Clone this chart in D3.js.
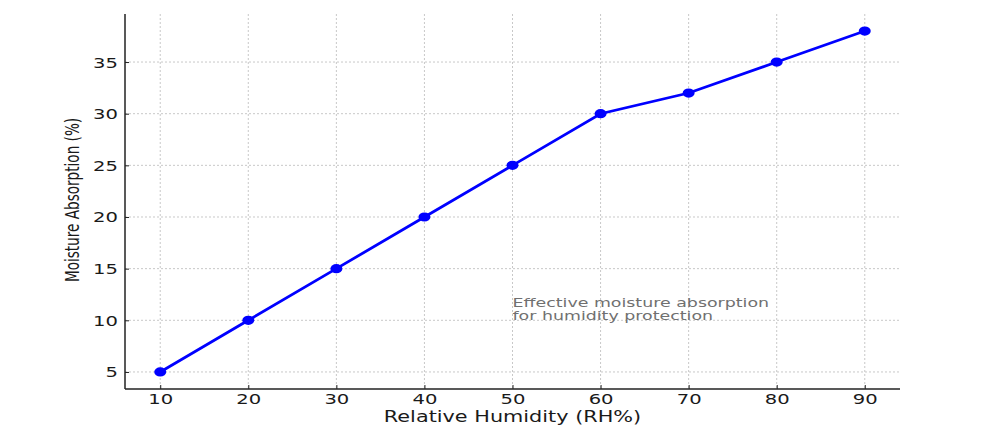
<!DOCTYPE html>
<html>
<head>
<meta charset="utf-8">
<script src="https://cdn.jsdelivr.net/npm/d3@7"></script>
<style>
  body { margin: 0; background: #fff; }
  svg { display: block; }
  text { font-family: "DejaVu Sans", sans-serif; fill: #1a1a1a; }
</style>
</head>
<body>
<svg id="chart" width="1000" height="433"></svg>
<script>
// data
var humidity = [10, 20, 30, 40, 50, 60, 70, 80, 90]
var absorption = [5, 10, 15, 20, 25, 30, 32, 35, 38]
var xTicks = [10, 20, 30, 40, 50, 60, 70, 80, 90]
var yTicks = [5, 10, 15, 20, 25, 30, 35]
var note = ['Effective moisture absorption', 'for humidity protection']

// plot box (window.top is reserved, hence the names)
var plotLeft = 125, plotRight = 900, plotTop = 14, plotBottom = 389

var svg = d3.select('#chart')
var x = d3.scaleLinear().domain([6, 94]).range([plotLeft, plotRight])
var y = d3.scaleLinear().domain([3.35, 39.65]).range([plotBottom, plotTop])

// grid
svg.append('g').selectAll('line').data(yTicks).join('line')
  .attr('x1', plotLeft).attr('x2', plotRight)
  .attr('y1', d => y(d)).attr('y2', d => y(d))
  .attr('stroke', '#c8c8c8').attr('stroke-width', 1).attr('stroke-dasharray', '2,2')
svg.append('g').selectAll('line').data(xTicks).join('line')
  .attr('x1', d => x(d)).attr('x2', d => x(d))
  .attr('y1', plotTop).attr('y2', plotBottom)
  .attr('stroke', '#c8c8c8').attr('stroke-width', 1).attr('stroke-dasharray', '2,2')

// axes (ticks inward); the picture is stretched sideways so text gets scaleX
var xAxis = svg.append('g').attr('transform', 'translate(0,' + plotBottom + ')')
  .call(d3.axisBottom(x).tickValues(xTicks).tickSize(-4))
var yAxis = svg.append('g').attr('transform', 'translate(' + plotLeft + ',0)')
  .call(d3.axisLeft(y).tickValues(yTicks).tickSize(-4))
;[xAxis, yAxis].forEach(g => {
  g.select('.domain').remove()
  g.selectAll('.tick line').attr('stroke', '#222').attr('stroke-width', 1)
  g.selectAll('.tick text').attr('font-size', 13.5).attr('fill', '#1a1a1a')
})
xAxis.selectAll('.tick text')
  .attr('transform', 'translate(0,15) scale(1.45,1)').attr('x', 0).attr('y', 0).attr('dy', 0)
yAxis.selectAll('.tick text').attr('text-anchor', 'end')
  .attr('transform', 'translate(-7,5) scale(1.45,1)').attr('x', 0).attr('dy', 0)

// spines: left and bottom only
svg.append('line').attr('x1', plotLeft).attr('x2', plotLeft).attr('y1', plotTop).attr('y2', plotBottom)
  .attr('stroke', '#222').attr('stroke-width', 1.5)
svg.append('line').attr('x1', plotLeft).attr('x2', plotRight).attr('y1', plotBottom).attr('y2', plotBottom)
  .attr('stroke', '#222').attr('stroke-width', 1.5)

// line + markers
var pts = humidity.map((h, i) => ({ h: h, v: absorption[i] }))
svg.append('path').datum(pts)
  .attr('fill', 'none').attr('stroke', '#0000ff').attr('stroke-width', 2.8)
  .attr('d', d3.line().x(d => x(d.h)).y(d => y(d.v)))
svg.append('g').selectAll('ellipse').data(pts).join('ellipse')
  .attr('cx', d => x(d.h)).attr('cy', d => y(d.v))
  .attr('rx', 6).attr('ry', 4.6).attr('fill', '#0000ff')

// annotation
var ann = svg.append('text')
  .attr('transform', 'translate(' + x(50) + ',' + (y(10) - 13.3) + ') scale(1.45,1)')
  .attr('font-size', 12).style('fill', '#707070')
ann.selectAll('tspan').data(note).join('tspan')
  .attr('x', 0).attr('dy', (d, i) => i ? 13.3 : 0).text(d => d)

// axis labels
svg.append('text')
  .attr('transform', 'translate(' + ((plotLeft + plotRight) / 2) + ',422) scale(1.3,1)')
  .attr('text-anchor', 'middle').attr('font-size', 16)
  .text('Relative Humidity (RH%)')
svg.append('text')
  .attr('transform', 'translate(79,200) scale(1.4,1) rotate(-90)')
  .attr('text-anchor', 'middle').attr('font-size', 13.6)
  .text('Moisture Absorption (%)')
</script>
</body>
</html>
